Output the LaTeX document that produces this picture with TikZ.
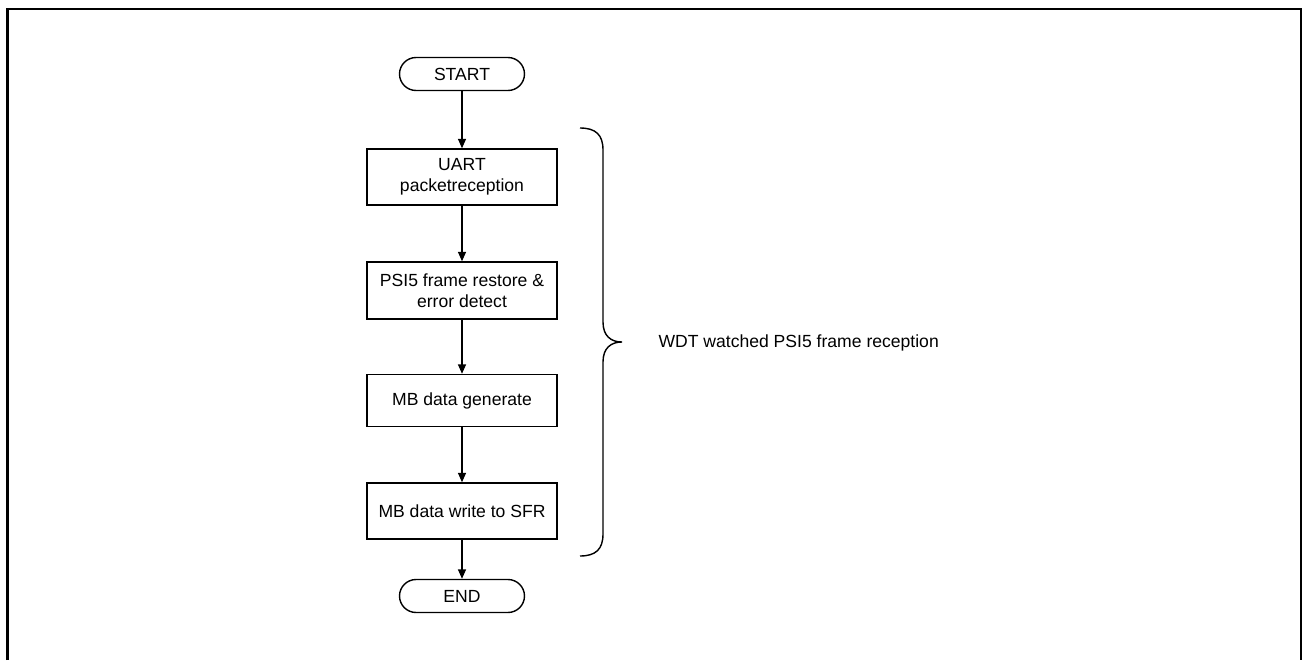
\documentclass[tikz,border=0pt]{standalone}
\usepackage{fontspec}
\setmainfont{Liberation Sans}
\usepackage{tikz}
\usetikzlibrary{arrows.meta}

\begin{document}
\begin{tikzpicture}[x=0.02cm, y=-0.02cm, line width=0.8pt,
    font=\fontsize{10}{12}\selectfont,
    stepbox/.style={draw, rectangle, minimum width=3.8cm, align=center,
      inner sep=0pt},
    termbox/.style={draw, rectangle, rounded corners=0.33cm,
      minimum width=2.5cm, minimum height=0.66cm, inner sep=0pt},
    flow/.style={-{Triangle[length=1.9mm, width=1.6mm]}}]

  \useasboundingbox (0,0) rectangle (1303,660);

  % -- outer frame, open at the bottom
  \draw[line width=1.3pt] (7.5,660) -- (7.5,9) -- (1301,9) -- (1301,660);

  % -- the flow itself, one column
  \node[termbox] (start) at (462,74) {START};
  \node[stepbox, minimum height=1.12cm] (uart) at (462,177)
    {UART\\packetreception};
  \node[stepbox, minimum height=1.14cm] (restore) at (462,290.5)
    {PSI5 frame restore \&\\error detect};
  \node[stepbox, minimum height=1.04cm] (mbgen) at (462,400.5)
    {MB data generate};
  \node[stepbox, minimum height=1.12cm] (mbwrite) at (462,511)
    {MB data write to SFR};
  \node[termbox] (stop) at (462,596) {END};

  \draw[flow] (start) -- (uart);
  \draw[flow] (uart) -- (restore);
  \draw[flow] (restore) -- (mbgen);
  \draw[flow] (mbgen) -- (mbwrite);
  \draw[flow] (mbwrite) -- (stop);

  % -- brace over the watched steps, tip pointing at the label
  \coordinate (tip) at (622,342);
  \draw (580,128) .. controls (596,128) and (603,135) .. (603,150)
    -- (603,322) .. controls (603,336) and (611,342) .. (tip)
    .. controls (611,342) and (603,348) .. (603,362)
    -- (603,534) .. controls (603,549) and (596,556) .. (580,556);
  \node[anchor=west] (watch) at (652,343) {WDT watched PSI5 frame reception};

\end{tikzpicture}
\end{document}
